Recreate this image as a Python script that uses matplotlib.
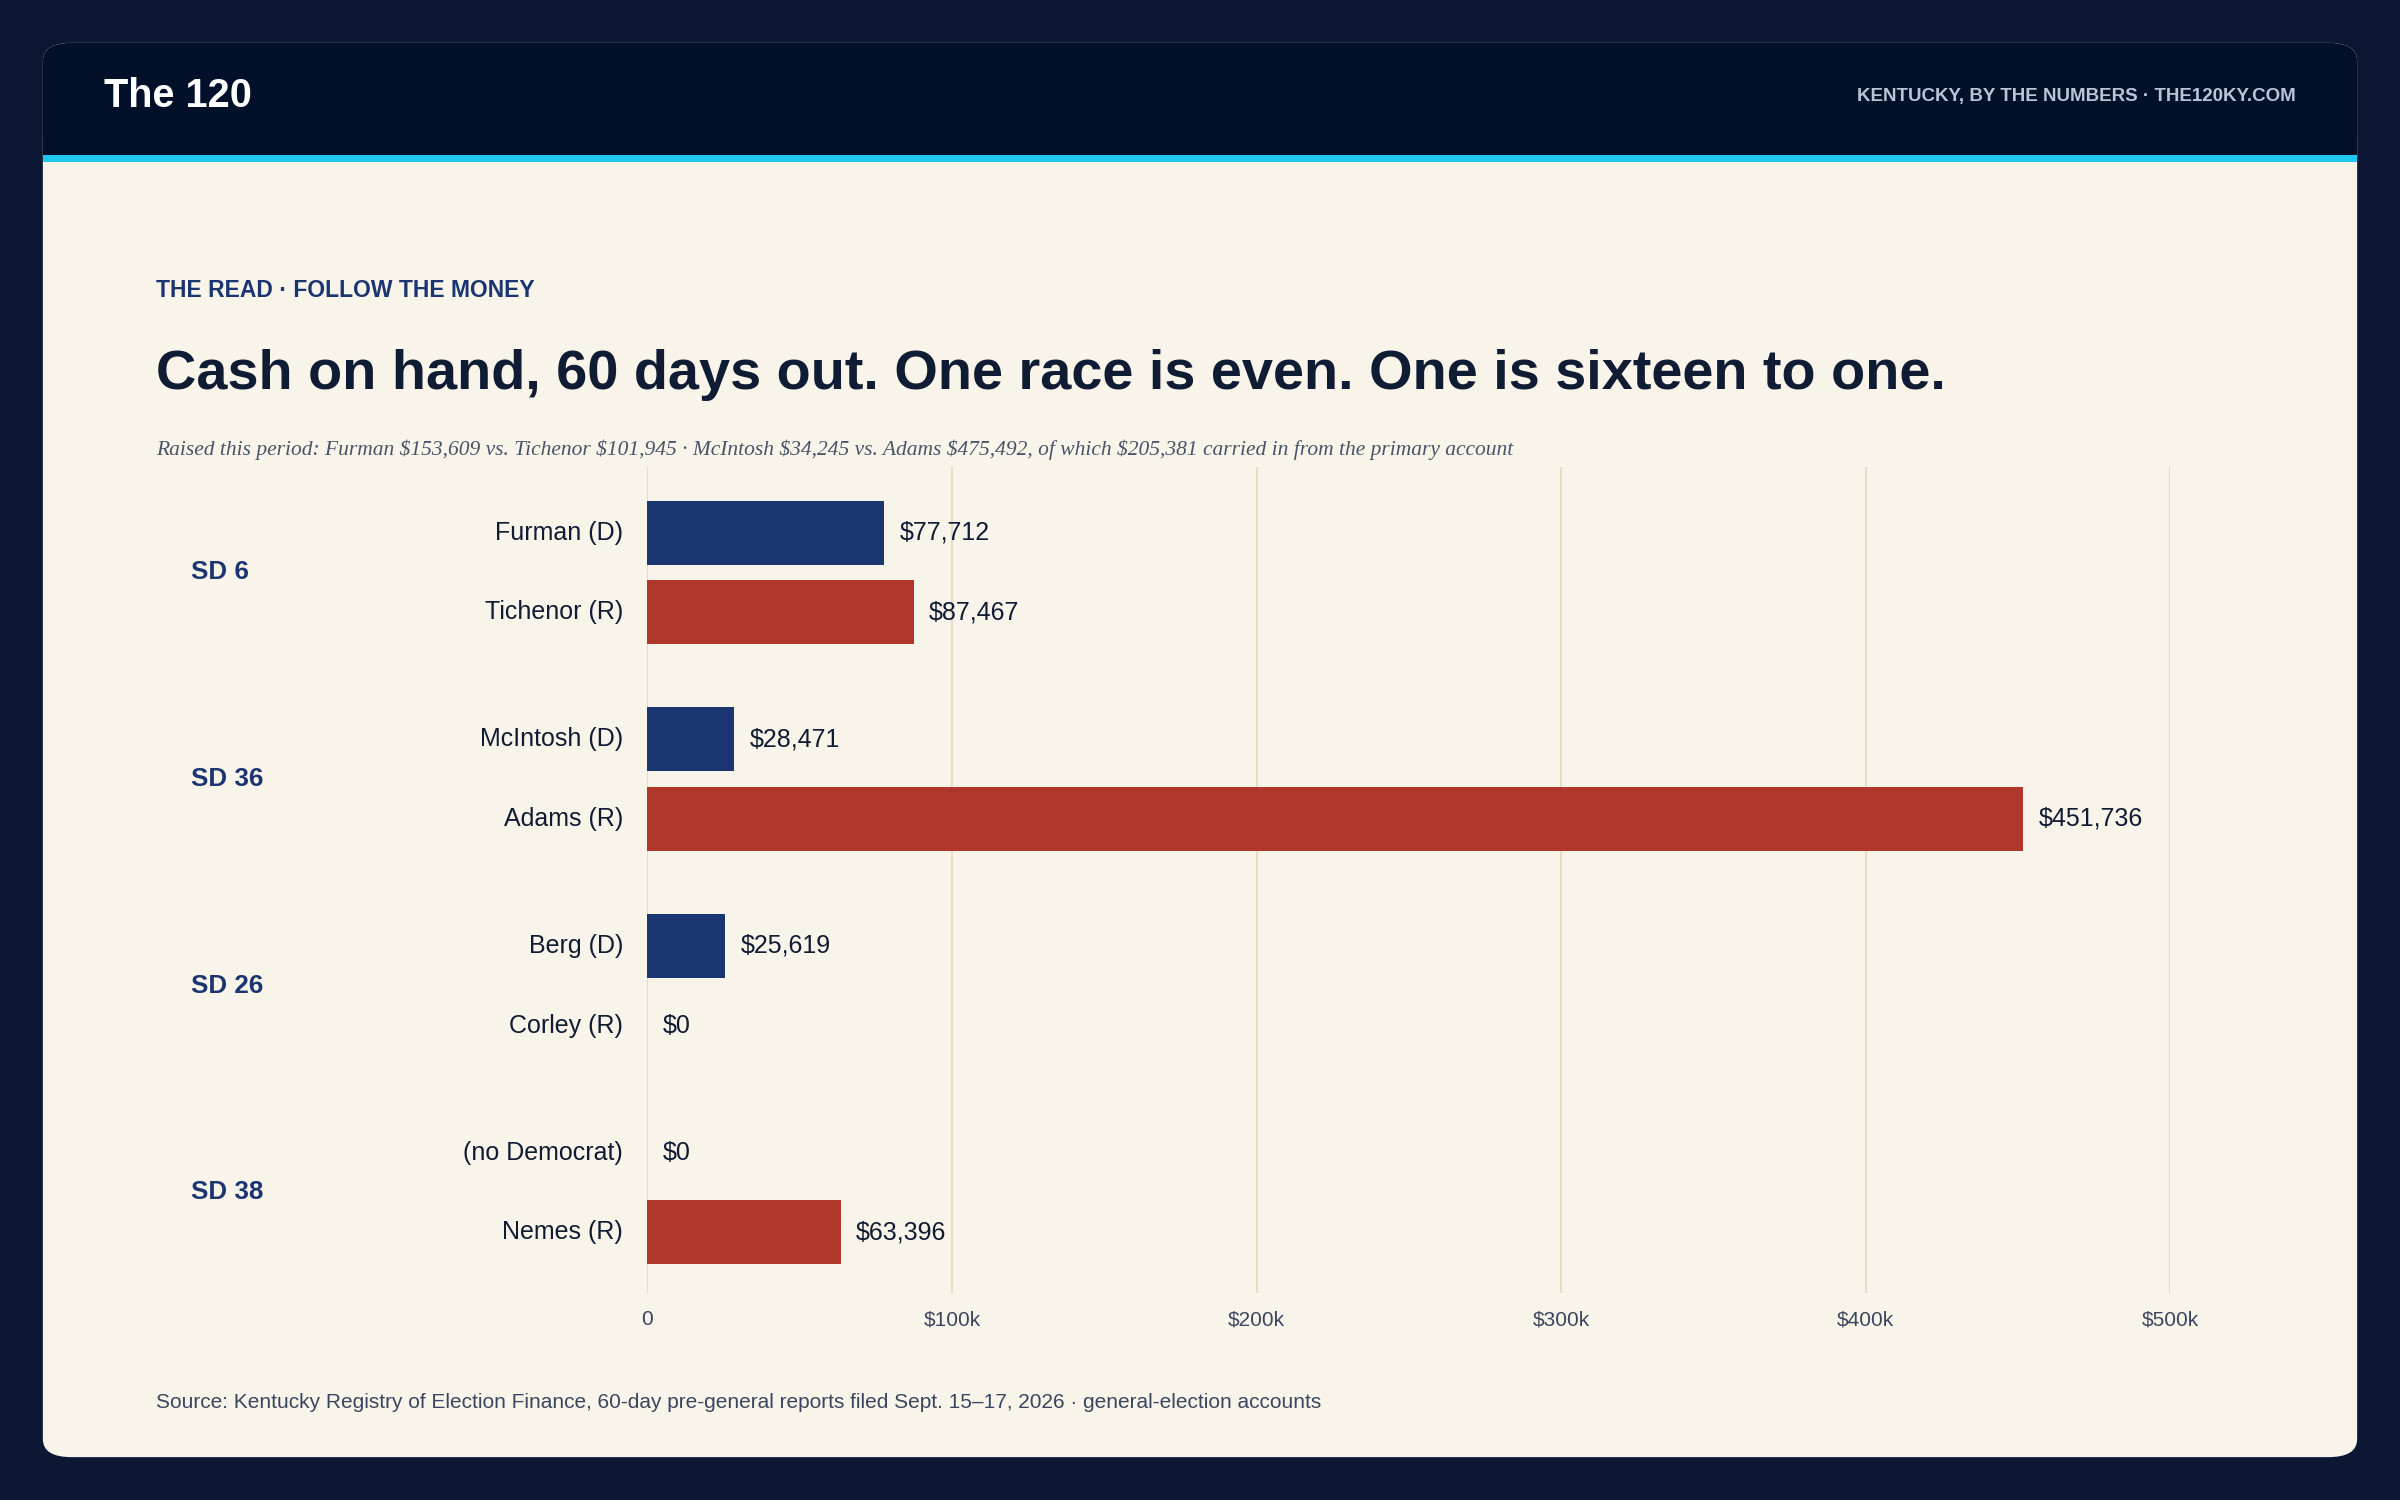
import matplotlib.pyplot as plt
from matplotlib.patches import FancyBboxPatch, Rectangle

plt.rcParams['font.family'] = ['Liberation Sans', 'DejaVu Sans']

# data
groups = ['SD 6', 'SD 36', 'SD 26', 'SD 38']
names = ['Furman (D)', 'Tichenor (R)', 'McIntosh (D)', 'Adams (R)',
         'Berg (D)', 'Corley (R)', '(no Democrat)', 'Nemes (R)']
cash = [77712, 87467, 28471, 451736, 25619, 0, 0, 63396]
party = ['D', 'R', 'D', 'R', 'D', 'R', 'D', 'R']
xticks = [0, 100000, 200000, 300000, 400000, 500000]
xticklabels = ['0', '$100k', '$200k', '$300k', '$400k', '$500k']

BG = '#0b1733'
CARD = '#f9f4ea'
NAVY = '#1a3570'
RED = '#b0362c'
INK = '#0f1c33'
W, H = 1568.0, 980.0

def fx(px):
    return px / W

def fy(py):
    return 1 - py / H

fig = plt.figure(figsize=(16, 10), dpi=150, facecolor=BG)
bg_kw = dict(transform=fig.transFigure, edgecolor='none', zorder=-5)
fig.patches.append(FancyBboxPatch((fx(28), fy(952)), fx(1540) - fx(28), fy(28) - fy(952),
                                  boxstyle='round,pad=0,rounding_size=0.012', facecolor=CARD, **bg_kw))
fig.patches.append(FancyBboxPatch((fx(28), fy(102)), fx(1540) - fx(28), fy(28) - fy(102),
                                  boxstyle='round,pad=0,rounding_size=0.012', facecolor='#02102a', **bg_kw))
fig.patches.append(Rectangle((fx(28), fy(102)), fx(1540) - fx(28), 0.02, facecolor='#02102a', **bg_kw))
fig.patches.append(Rectangle((fx(28), fy(106)), fx(1540) - fx(28), fy(101) - fy(106),
                             facecolor='#1fc8f0', **bg_kw))

fig.text(fx(68), fy(63), 'The 120', color='white', fontsize=19, fontweight='bold', va='center')
fig.text(fx(1500), fy(63), 'KENTUCKY, BY THE NUMBERS · THE120KY.COM', color='#b8c4d8',
         fontsize=9, fontweight='bold', va='center', ha='right')
fig.text(fx(102), fy(190), 'THE READ · FOLLOW THE MONEY', color=NAVY, fontsize=11,
         fontweight='bold', va='center')
fig.text(fx(102), fy(245), 'Cash on hand, 60 days out. One race is even. One is sixteen to one.',
         color=INK, fontsize=26.8, fontweight='bold', va='center')
fig.text(fx(102), fy(294), 'Raised this period: Furman $153,609 vs. Tichenor $101,945 · McIntosh $34,245 vs. '
         'Adams $475,492, of which $205,381 carried in from the primary account',
         color='#4a5468', fontsize=10.3, style='italic', family=['Liberation Serif', 'DejaVu Serif'],
         va='center')
fig.text(fx(102), fy(916), 'Source: Kentucky Registry of Election Finance, 60-day pre-general reports filed '
         'Sept. 15–17, 2026 · general-election accounts', color='#3a4660', fontsize=10, va='center')

ax = fig.add_axes([fx(423), fy(845), fx(1418) - fx(423), fy(305) - fy(845)])
ax.set_facecolor('none')
ax.set_zorder(5)
ys = [g * 135 + r * 52 for g in range(4) for r in range(2)]
colors = [NAVY if p == 'D' else RED for p in party]
ax.barh(ys, cash, height=42, color=colors, zorder=3)
for y, v, n in zip(ys, cash, names):
    ax.text(v + 5000, y, f'${v:,}', va='center', ha='left', fontsize=12, color=INK)
    ax.text(-8000, y, n, va='center', ha='right', fontsize=12, color=INK)
for g, name in enumerate(groups):
    ax.text(fx(125 - 423) / (fx(1418) - fx(423)), g * 135 + 26, name, transform=ax.get_yaxis_transform(),
            va='center', ha='left', fontsize=12.5, fontweight='bold', color=NAVY)
ax.set_ylim(497, -43)
ax.set_xlim(0, 500000)
ax.set_xticks(xticks)
ax.set_xticklabels(xticklabels, fontsize=10, color='#3a4660')
ax.set_yticks([])
ax.tick_params(axis='x', length=0, pad=8)
for t in xticks:
    ax.axvline(t, color='#e6dcc3', lw=1, zorder=1)
for s in ax.spines.values():
    s.set_visible(False)

fig.savefig('out.png', dpi=150, facecolor=BG)
